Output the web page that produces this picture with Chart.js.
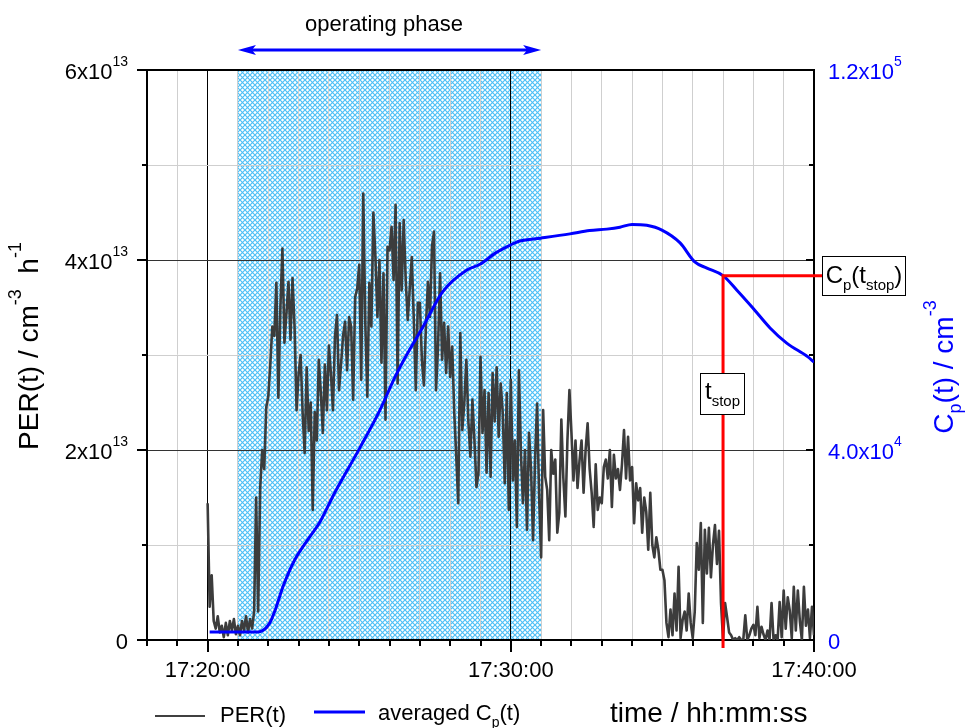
<!DOCTYPE html>
<html>
<head>
<meta charset="utf-8">
<script src="https://cdn.jsdelivr.net/npm/chart.js@4.4.1/dist/chart.umd.min.js"></script>
<style>
  html, body { margin: 0; padding: 0; background: #fff; }
  #wrap { width: 965px; height: 728px; }
</style>
</head>
<body>
<div id="wrap"><canvas id="chart" width="965" height="728" style="width:965px;height:728px"></canvas></div>
<script>
// x range and markers (hh:mm:ss)
const xMin = "17:18:00";
const xMax = "17:40:00";
const phaseStart = "17:21:00";
const phaseEnd = "17:31:00";
const tStop = "17:37:00";
const cpAtStop = 76700;

// PER(t), one value every 4 s from 17:20:00, in units of 1e13 cm^-3 h^-1 (one row = one minute)
const perStart = "17:20:00";
const perStepSec = 4;
const perValues = [
  1.44, 0.35, 0.68, 0.2, 0.12, 0.25, 0.08, 0.15, 0.03, 0.18, 0.05, 0.2, 0.1, 0.22, 0.06,
  0.15, 0.05, 0.2, 0.1, 0.25, 0.08, 0.22, 0.12, 0.3, 1.5, 0.3, 1.6, 2.0, 1.8, 2.45,
  2.56, 2.9, 3.3, 3.2, 3.76, 2.55, 3.5, 4.12, 3.13, 3.44, 3.77, 3.16, 3.81, 3.3, 2.42,
  2.8, 3.0, 2.39, 1.97, 2.87, 2.2, 2.5, 1.37, 2.4, 2.1, 2.95, 2.6, 2.18, 2.9, 2.42,
  3.1, 2.8, 2.42, 3.19, 3.42, 2.63, 2.9, 3.2, 3.35, 2.84, 3.4, 3.3, 2.53, 3.61, 3.7,
  3.95, 2.74, 4.7, 3.34, 2.56, 3.76, 3.3, 4.5, 4.03, 3.4, 4.0, 2.92, 3.86, 2.32, 4.14,
  4.1, 4.35, 3.79, 4.58, 2.7, 4.39, 3.68, 4.42, 3.79, 3.37, 3.7, 4.03, 3.37, 2.63, 3.55,
  3.55, 2.95, 2.68, 3.3, 3.77, 3.4, 4.14, 4.3, 2.63, 3.09, 3.86, 2.95, 3.34, 2.81, 3.3,
  2.77, 3.09, 2.4, 1.93, 1.44, 3.23, 2.21, 2.5, 2.95, 2.3, 1.93, 2.53, 2.1, 1.61, 1.76,
  2.98, 2.18, 2.63, 1.76, 2.6, 1.72, 2.81, 2.3, 2.87, 2.14, 2.7, 2.39, 1.65, 2.6, 1.37,
  2.74, 1.68, 2.1, 1.19, 2.84, 1.97, 1.44, 2.0, 1.16, 2.18, 1.8, 1.05, 1.9, 2.49, 1.51,
  0.87, 2.42, 1.72, 1.58, 1.05, 2.0, 1.75, 1.9, 1.13, 1.34, 2.32, 1.7, 1.3, 2.1, 2.63,
  2.18, 1.68, 2.1, 1.6, 1.89, 2.1, 1.55, 2.0, 2.28, 1.8, 1.55, 1.19, 1.85, 1.37, 1.5,
  1.44, 1.82, 1.9, 1.7, 2.0, 1.4, 1.95, 1.7, 1.8, 1.58, 1.85, 2.21, 1.7, 2.14, 1.68,
  1.82, 1.23, 1.65, 1.47, 1.6, 1.13, 1.5, 1.35, 0.95, 1.55, 1.0, 0.87, 1.08, 0.95, 0.74,
  0.74, 0.63, 0.18, 0.03, 0.32, 0.05, 0.49, 0.1, 0.77, 0.02, 0.21, 0.3, 0.1, 0.49, 0.18,
  0.02, 0.3, 1.02, 0.74, 1.23, 0.18, 1.16, 0.7, 1.18, 0.66, 1.0, 1.21, 0.8, 1.15, 0.39,
  0.0, 0.39, 0.24, 0.08, 0.05, 0.0, 0.02, 0.0, 0.03, 0.0, 0.0, 0.26, 0.0, 0.05, 0.12,
  0.16, 0.05, 0.35, 0.02, 0.14, 0.06, 0.0, 0.1, 0.0, 0.39, 0.0, 0.05, 0.0, 0.4, 0.03,
  0.52, 0.12, 0.45, 0.31, 0.02, 0.56, 0.1, 0.52, 0.2, 0.0, 0.56, 0.15, 0.32, 0.02, 0.35,
  0.05
];

// averaged Cp(t) in cm^-3
const cpTimes = [
  "17:20:04", "17:21:33", "17:21:43", "17:22:03", "17:22:15", "17:22:29", "17:22:52",
  "17:23:22", "17:23:42", "17:24:11", "17:25:01", "17:25:41", "17:26:10", "17:26:28",
  "17:27:06", "17:27:45", "17:28:33", "17:28:59", "17:29:30", "17:29:58", "17:30:18",
  "17:30:59", "17:31:57", "17:32:36", "17:33:10", "17:33:36", "17:34:00", "17:34:29",
  "17:34:59", "17:35:35", "17:36:04", "17:36:28", "17:37:00", "17:37:27", "17:37:59",
  "17:38:33", "17:39:06", "17:39:48", "17:40:00"
];
const cpValues = [
  1700, 1700, 1750, 3600, 6700, 11200, 16800,
  21700, 24800, 30900, 40400, 48400, 55200, 58900,
  65900, 73300, 77900, 79100, 81500, 83100, 84000,
  84600, 85500, 86200, 86500, 86900, 87500, 87300,
  86300, 83600, 79600, 78300, 76700, 73700, 69900,
  65700, 62500, 59600, 58500
];

// left axis tick labels (x10^13) and right axis tick labels
const perTicks = [0, 2, 4, 6];
const cpTicks = [0, 40000, 120000];

const toSec = s => { const p = s.split(":").map(Number); return p[0] * 3600 + p[1] * 60 + p[2]; };
const fmt = v => {
  const h = Math.floor(v / 3600), m = Math.floor((v % 3600) / 60), s = v % 60;
  return [h, m, s].map(n => String(n).padStart(2, "0")).join(":");
};

const FONT = "'Liberation Sans', Arial, sans-serif";
const perData = perValues.map((v, i) => ({ x: toSec(perStart) + i * perStepSec, y: v }));
const cpData = cpTimes.map((t, i) => ({ x: toSec(t), y: cpValues[i] }));
const majorX = [toSec("17:20:00"), toSec("17:30:00")];

// draws text pieces with sup/sub, returns width
function rich(ctx, parts, x, y, align, size, color) {
  const small = Math.round(size * 0.64);
  const w = parts.reduce((acc, p) => {
    ctx.font = (p.s ? small : size) + "px " + FONT;
    return acc + ctx.measureText(p.t).width;
  }, 0);
  let cx = align === "right" ? x - w : align === "center" ? x - w / 2 : x;
  ctx.fillStyle = color;
  ctx.textAlign = "left";
  ctx.textBaseline = "alphabetic";
  parts.forEach(p => {
    ctx.font = (p.s ? small : size) + "px " + FONT;
    const dy = p.s === "sup" ? -size * 0.6 : p.s === "sub" ? size * 0.3 : 0;
    ctx.fillText(p.t, cx, y + dy);
    cx += ctx.measureText(p.t).width;
  });
  return w;
}

function hatch(ctx) {
  const c = document.createElement("canvas");
  c.width = 5; c.height = 5;
  const g = c.getContext("2d");
  g.strokeStyle = "#4fc0f6";
  g.lineWidth = 1.2;
  g.beginPath();
  g.moveTo(-1, -1); g.lineTo(6, 6);
  g.moveTo(6, -1); g.lineTo(-1, 6);
  g.stroke();
  return ctx.createPattern(c, "repeat");
}

const decor = {
  id: "decor",
  beforeDraw(chart) {
    const { ctx, chartArea: a, scales } = chart;
    ctx.save();
    ctx.fillStyle = "#fff";
    ctx.fillRect(0, 0, chart.width, chart.height);
    const x0 = scales.x.getPixelForValue(toSec(phaseStart));
    const x1 = scales.x.getPixelForValue(toSec(phaseEnd));
    ctx.fillStyle = hatch(ctx);
    ctx.fillRect(x0, a.top, x1 - x0, a.bottom - a.top);
    ctx.restore();
  },
  afterDraw(chart) {
    const { ctx, chartArea: a, scales } = chart;
    const xs = scales.x, yl = scales.y, yr = scales.y2;
    ctx.save();
    ctx.strokeStyle = "#000";
    ctx.lineWidth = 2;
    // top border
    ctx.beginPath();
    ctx.moveTo(a.left - 1, a.top); ctx.lineTo(a.right + 1, a.top);
    ctx.stroke();

    // tick marks
    ctx.beginPath();
    for (let v = toSec(xMin); v <= toSec(xMax); v += 60) {
      const px = Math.round(xs.getPixelForValue(v));
      const len = v % 600 === 0 ? 12 : 6;
      ctx.moveTo(px, a.bottom); ctx.lineTo(px, a.bottom + len);
    }
    for (let v = 0; v <= 6; v++) {
      const py = Math.round(yl.getPixelForValue(v));
      const len = v % 2 === 0 ? 10 : 5;
      ctx.moveTo(a.left, py); ctx.lineTo(a.left - len, py);
    }
    for (let v = 0; v <= 120000; v += 20000) {
      const py = Math.round(yr.getPixelForValue(v));
      const len = v % 40000 === 0 ? 8 : 5;
      ctx.moveTo(a.right, py); ctx.lineTo(a.right - len, py);
    }
    ctx.stroke();

    // y tick labels
    perTicks.forEach(v => {
      const py = yl.getPixelForValue(v);
      const parts = v === 0 ? [{ t: "0" }] : [{ t: v + "x10" }, { t: "13", s: "sup" }];
      rich(ctx, parts, 128, py + 9, "right", 22, "#000");
    });
    cpTicks.forEach(v => {
      const py = yr.getPixelForValue(v);
      let parts = [{ t: "0" }];
      if (v > 0) {
        const e = Math.floor(Math.log10(v));
        parts = [{ t: (v / Math.pow(10, e)).toFixed(1) + "x10" }, { t: String(e), s: "sup" }];
      }
      rich(ctx, parts, 828, py + 9, "left", 22, "#0000ff");
    });

    // t_stop marker lines
    const sx = xs.getPixelForValue(toSec(tStop));
    const sy = yr.getPixelForValue(cpAtStop);
    ctx.strokeStyle = "#ff0000";
    ctx.lineWidth = 3;
    ctx.beginPath();
    ctx.moveTo(sx, a.bottom + 8); ctx.lineTo(sx, sy); ctx.lineTo(a.right + 8, sy);
    ctx.stroke();

    // label boxes
    ctx.lineWidth = 1;
    ctx.strokeStyle = "#000";
    ctx.fillStyle = "#fff";
    const bx = a.right + 8.5, by = Math.round(sy) - 19.5;
    ctx.fillRect(bx, by, 83, 39); ctx.strokeRect(bx, by, 83, 39);
    rich(ctx, [{ t: "C" }, { t: "p", s: "sub" }, { t: "(t" }, { t: "stop", s: "sub" }, { t: ")" }],
      bx + 41.5, by + 26, "center", 24, "#000");
    ctx.fillStyle = "#fff";
    const tx = Math.round(sx) - 22.5, ty = 373.5;
    ctx.fillRect(tx, ty, 44, 41); ctx.strokeRect(tx, ty, 44, 41);
    rich(ctx, [{ t: "t" }, { t: "stop", s: "sub" }], tx + 22, ty + 25, "center", 24, "#000");

    // operating phase arrow
    const ax0 = xs.getPixelForValue(toSec(phaseStart));
    const ax1 = xs.getPixelForValue(toSec(phaseEnd));
    ctx.strokeStyle = "#0000ff";
    ctx.fillStyle = "#0000ff";
    ctx.lineWidth = 3;
    ctx.beginPath();
    ctx.moveTo(ax0 + 10, 50); ctx.lineTo(ax1 - 10, 50);
    ctx.stroke();
    ctx.beginPath();
    ctx.moveTo(ax0, 50); ctx.lineTo(ax0 + 18, 45); ctx.lineTo(ax0 + 14, 50); ctx.lineTo(ax0 + 18, 55); ctx.closePath();
    ctx.moveTo(ax1, 50); ctx.lineTo(ax1 - 18, 45); ctx.lineTo(ax1 - 14, 50); ctx.lineTo(ax1 - 18, 55); ctx.closePath();
    ctx.fill();
    rich(ctx, [{ t: "operating phase" }], 384, 31, "center", 22, "#000");

    // legend and x title
    ctx.lineWidth = 2;
    ctx.strokeStyle = "#404040";
    ctx.beginPath(); ctx.moveTo(155, 716); ctx.lineTo(205, 716); ctx.stroke();
    rich(ctx, [{ t: "PER(t)" }], 220, 722, "left", 22, "#000");
    ctx.lineWidth = 3;
    ctx.strokeStyle = "#0000ff";
    ctx.beginPath(); ctx.moveTo(314, 712); ctx.lineTo(365, 712); ctx.stroke();
    rich(ctx, [{ t: "averaged C" }, { t: "p", s: "sub" }, { t: "(t)" }], 378, 720, "left", 22, "#000");
    rich(ctx, [{ t: "time / hh:mm:ss" }], 610, 722, "left", 28, "#000");

    // rotated axis titles
    ctx.translate(38, 346);
    ctx.rotate(-Math.PI / 2);
    rich(ctx, [{ t: "PER(t) / cm" }, { t: "-3", s: "sup" }, { t: "  h" }, { t: "-1", s: "sup" }], 0, 0, "center", 28, "#000");
    ctx.setTransform(1, 0, 0, 1, 0, 0);
    ctx.translate(953, 367);
    ctx.rotate(-Math.PI / 2);
    rich(ctx, [{ t: "C" }, { t: "p", s: "sub" }, { t: "(t) / cm" }, { t: "-3", s: "sup" }], 0, 0, "center", 28, "#0000ff");
    ctx.restore();
  }
};

new Chart(document.getElementById("chart"), {
  type: "line",
  data: {
    datasets: [
      {
        label: "averaged Cp(t)",
        data: cpData,
        yAxisID: "y2",
        borderColor: "#0000ff",
        borderWidth: 3,
        pointRadius: 0,
        cubicInterpolationMode: "monotone",
        order: 0
      },
      {
        label: "PER(t)",
        data: perData,
        yAxisID: "y",
        borderColor: "#3c3c3c",
        borderWidth: 2.6,
        borderJoinStyle: "round",
        pointRadius: 0,
        tension: 0,
        order: 1
      }
    ]
  },
  options: {
    responsive: false,
    animation: false,
    layout: { padding: { top: 70, left: 0, right: 0, bottom: 0 } },
    plugins: { legend: { display: false }, tooltip: { enabled: false } },
    scales: {
      x: {
        type: "linear",
        min: toSec(xMin),
        max: toSec(xMax),
        afterFit: s => { s.height = 88; },
        ticks: {
          stepSize: 60,
          autoSkip: false,
          maxRotation: 0,
          padding: 18,
          color: "#000",
          font: { family: FONT, size: 22 },
          callback: v => (v % 600 === 0 ? fmt(v) : "")
        },
        grid: {
          drawTicks: false,
          color: c => (majorX.includes(c.tick && c.tick.value) ? "#000" : "#cfcfcf"),
          lineWidth: 1
        },
        border: { color: "#000", width: 2 }
      },
      y: {
        position: "left",
        min: 0,
        max: 6,
        afterFit: s => { s.width = 147; },
        ticks: { stepSize: 1, display: false },
        grid: {
          drawTicks: false,
          color: c => (c.tick && (c.tick.value === 2 || c.tick.value === 4) ? "#333" : "#cfcfcf"),
          lineWidth: 1
        },
        border: { color: "#000", width: 2 }
      },
      y2: {
        position: "right",
        min: 0,
        max: 120000,
        afterFit: s => { s.width = 151; },
        ticks: { stepSize: 20000, display: false },
        grid: { display: false, drawTicks: false },
        border: { color: "#000", width: 2 }
      }
    }
  },
  plugins: [decor]
});
</script>
</body>
</html>
